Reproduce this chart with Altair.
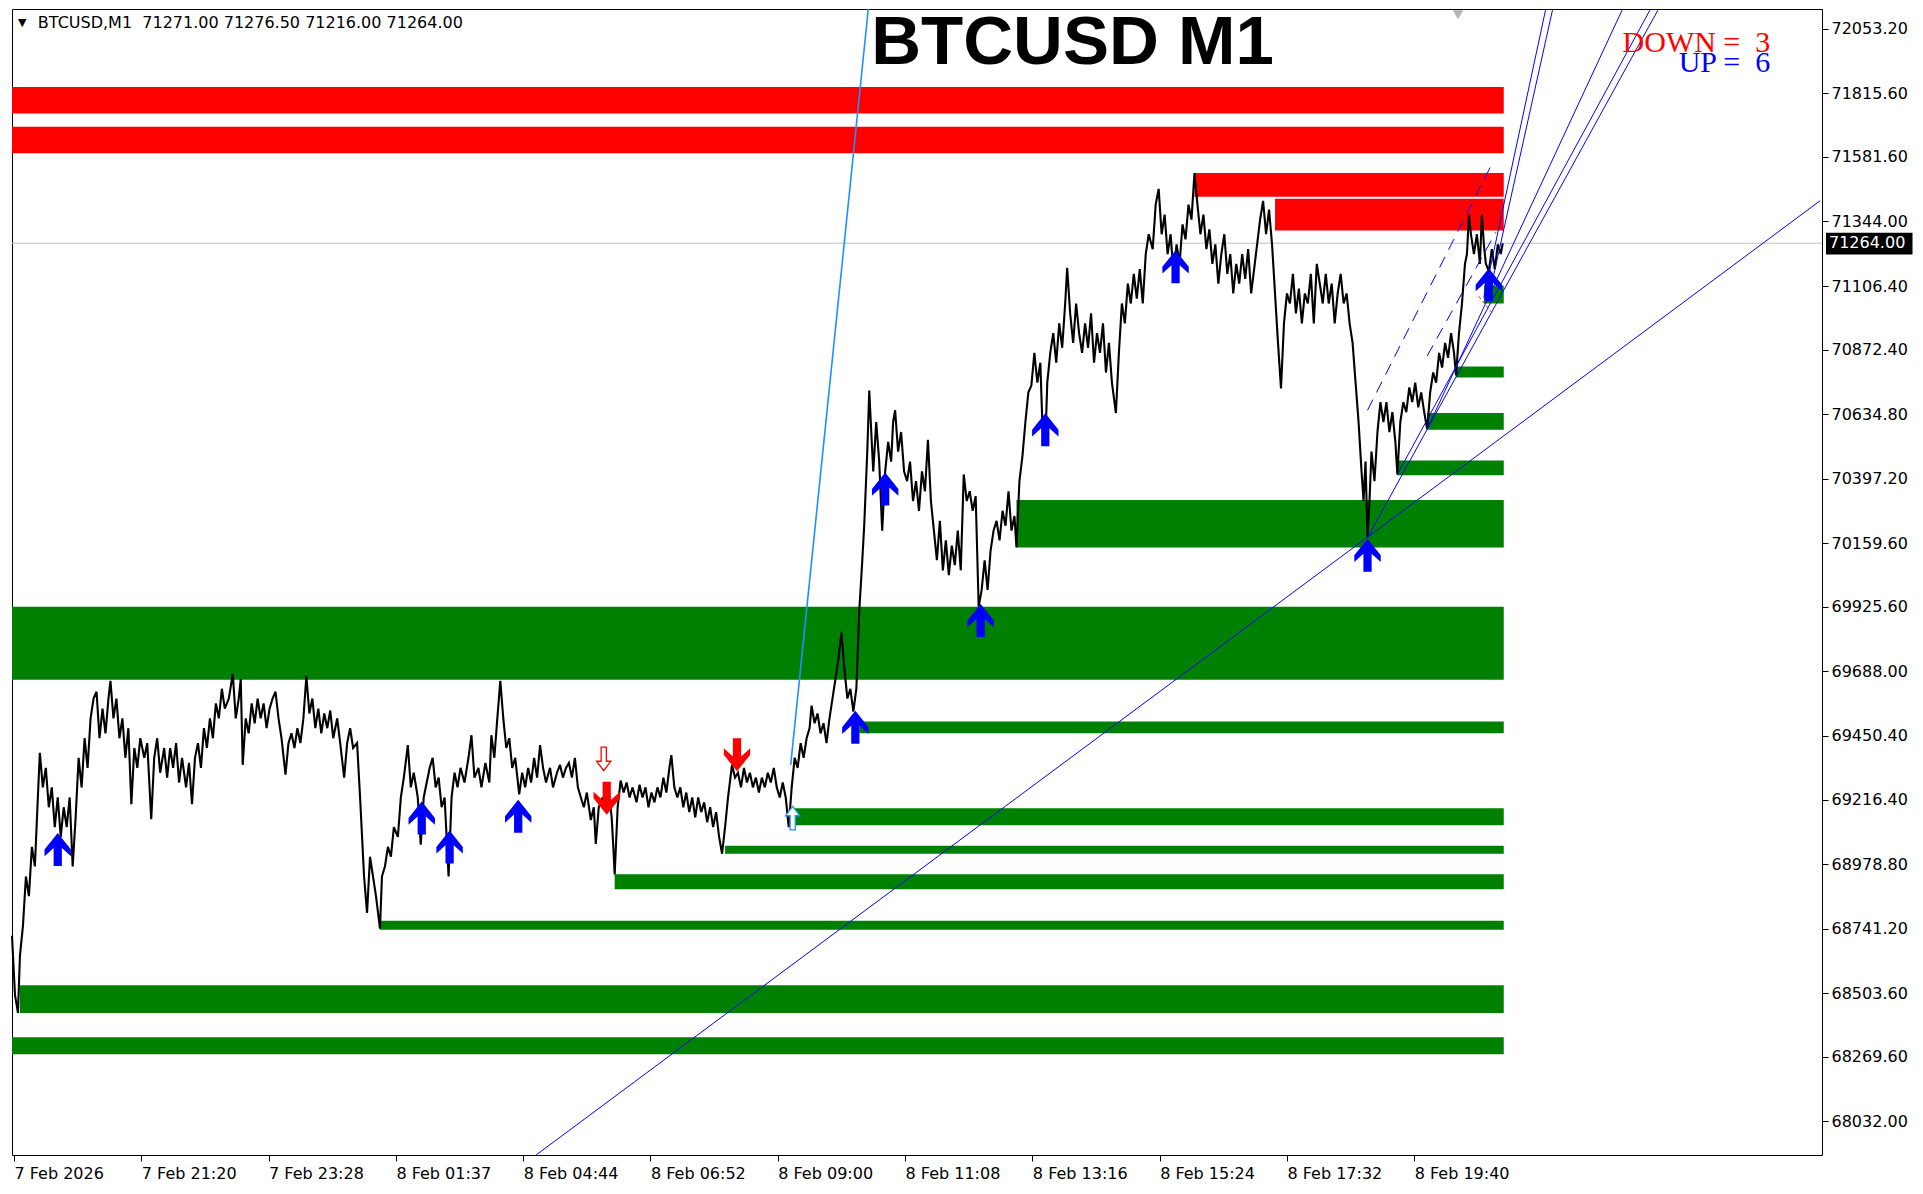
import altair as alt
import pandas as pd

# ---------------- data ----------------
# price path: (bar index, price) read as a zig-zag of the 1-minute bars
path = [
(-2,68715),(1,68497),(4,68431),(6,68642),(9,68751),(12,68933),(15,68861),(18,69042),(21,68970),(24,69224),(26,69388),(29,69261),(32,69333),(35,69188),(38,69261),(41,69115),(44,69224),(47,69079),(50,69188),(53,69115),(56,69224),(59,68970),(62,69151),(65,69370),(68,69261),(71,69442),(74,69333),(77,69515),(80,69588),(83,69613),(86,69442),(89,69551),(92,69460),(95,69588),(97,69653),(100,69515),(103,69588),(106,69442),(109,69515),(112,69370),(115,69479),(118,69199),(121,69406),(124,69333),(127,69442),(131,69370),(134,69424),(138,69144),(141,69370),(144,69442),(147,69315),(151,69406),(154,69297),(157,69406),(160,69333),(163,69424),(166,69279),(169,69370),(173,69261),(176,69351),(179,69199),(182,69370),(185,69424),(188,69333),(191,69479),(194,69406),(197,69515),(200,69442),(203,69570),(206,69515),(209,69624),(212,69551),(216,69588),(220,69679),(223,69515),(226,69588),(228,69660),(230,69344),(233,69515),(236,69460),(239,69570),(242,69497),(245,69588),(248,69515),(251,69570),(254,69479),(257,69551),(260,69588),(263,69613),(266,69515),(269,69442),(273,69308),(276,69424),(279,69460),(282,69406),(285,69479),(288,69424),(291,69515),(294,69671),(297,69533),(300,69588),(303,69479),(306,69551),(309,69460),(312,69533),(315,69479),(318,69544),(321,69442),(325,69515),(328,69424),(332,69297),(335,69424),(338,69479),(341,69406),(345,69424),(348,69224),(350,69079),(352,68933),(355,68799),(358,69006),(361,68933),(364,68861),(368,68741),(370,68933),(373,68970),(376,69042),(379,69006),(382,69115),(386,69079),(389,69224),(392,69297),(396,69417),(399,69261),(402,69315),(406,69224),(409,69050),(412,69224),(415,69279),(418,69333),(421,69370),(424,69261),(427,69297),(430,69188),(433,69224),(437,68933),(440,69224),(443,69315),(446,69261),(449,69333),(453,69279),(457,69370),(460,69453),(463,69297),(467,69333),(470,69261),(474,69351),(478,69279),(480,69453),(483,69370),(486,69515),(489,69653),(492,69515),(495,69406),(498,69442),(501,69333),(504,69370),(508,69235),(511,69315),(514,69261),(517,69333),(520,69279),(523,69370),(526,69297),(529,69417),(532,69333),(535,69279),(539,69333),(542,69261),(546,69315),(549,69344),(552,69297),(555,69333),(558,69351),(561,69297),(564,69370),(567,69261),(570,69224),(573,69188),(576,69242),(580,69141),(583,69188),(585,69053),(588,69188),(592,69224),(595,69177),(598,69242),(601,69151),(603,69017),(604,68941),(607,69188),(610,69286),(613,69242),(616,69279),(619,69224),(622,69261),(626,69206),(629,69271),(632,69224),(635,69261),(638,69188),(641,69242),(644,69206),(647,69261),(650,69224),(653,69297),(656,69242),(659,69333),(661,69380),(664,69261),(667,69224),(670,69261),(673,69188),(676,69242),(679,69170),(682,69224),(685,69151),(688,69224),(691,69170),(694,69206),(697,69133),(700,69188),(703,69115),(706,69170),(709,69079),(712,69017),(715,69115),(718,69224),(722,69344),(725,69297),(728,69315),(731,69261),(734,69333),(737,69279),(740,69315),(743,69261),(746,69297),(749,69242),(752,69297),(755,69261),(758,69315),(761,69279),(764,69333),(767,69261),(770,69224),(773,69279),(776,69224),(779,69115),(782,69261),(785,69370),(788,69333),(791,69424),(794,69370),(797,69442),(800,69479),(802,69562),(805,69497),(808,69533),(811,69460),(814,69497),(817,69424),(820,69515),(823,69588),(826,69660),(829,69733),(832,69831),(835,69697),(838,69588),(841,69624),(844,69540),(847,69624),(850,69915),(853,70097),(855,70231),(858,70497),(860,70722),(862,70569),(864,70424),(867,70606),(870,70460),(873,70206),(876,70424),(879,70533),(882,70460),(884,70606),(886,70649),(889,70497),(892,70569),(895,70424),(898,70388),(901,70460),(904,70315),(907,70388),(910,70279),(913,70424),(916,70351),(919,70540),(922,70315),(925,70206),(928,70097),(931,70242),(934,70060),(937,70170),(940,70042),(943,70151),(946,70079),(949,70206),(952,70060),(955,70413),(958,70315),(961,70351),(964,70279),(967,70333),(970,69926),(973,69988),(976,70097),(979,69988),(982,70133),(985,70206),(988,70242),(991,70170),(994,70279),(997,70224),(1000,70351),(1003,70206),(1006,70260),(1008,70144),(1011,70388),(1014,70479),(1017,70606),(1020,70715),(1023,70740),(1026,70860),(1029,70751),(1032,70824),(1034,70606),(1037,70522),(1039,70751),(1042,70860),(1045,70933),(1048,70824),(1051,70969),(1054,70879),(1057,71042),(1059,71173),(1062,71006),(1065,70897),(1068,71042),(1071,70933),(1074,70860),(1077,70969),(1080,70879),(1083,71006),(1086,70824),(1089,70933),(1092,70860),(1095,70969),(1098,70788),(1101,70897),(1104,70751),(1108,70639),(1111,70860),(1114,71042),(1117,70969),(1120,71115),(1123,71042),(1126,71151),(1129,71060),(1132,71169),(1135,71042),(1138,71224),(1141,71297),(1145,71242),(1148,71406),(1151,71464),(1154,71297),(1157,71369),(1160,71224),(1163,71297),(1166,71151),(1169,71260),(1172,71188),(1175,71333),(1178,71278),(1181,71406),(1184,71351),(1187,71522),(1190,71406),(1193,71297),(1196,71369),(1199,71242),(1202,71315),(1205,71188),(1208,71260),(1211,71115),(1214,71224),(1217,71297),(1220,71151),(1223,71224),(1226,71079),(1229,71188),(1232,71115),(1235,71224),(1238,71133),(1241,71242),(1244,71079),(1247,71169),(1250,71260),(1253,71351),(1256,71420),(1259,71297),(1262,71388),(1265,71260),(1268,71079),(1271,70897),(1274,70729),(1277,70969),(1280,71079),(1283,71042),(1286,71151),(1289,71006),(1292,71097),(1295,70969),(1298,71079),(1301,71042),(1304,71151),(1307,70969),(1310,71188),(1313,71115),(1316,71042),(1319,71151),(1322,71042),(1325,71115),(1328,70969),(1331,71079),(1334,71151),(1337,71042),(1340,71079),(1343,70969),(1346,70897),(1349,70751),(1352,70606),(1355,70424),(1357,70315),(1359,70460),(1361,70180),(1363,70315),(1365,70497),(1368,70388),(1371,70569),(1374,70679),(1377,70606),(1380,70679),(1383,70569),(1386,70642),(1389,70533),(1391,70413),(1394,70606),(1397,70679),(1400,70642),(1403,70733),(1406,70679),(1409,70751),(1412,70660),(1415,70715),(1418,70642),(1421,70580),(1424,70715),(1427,70788),(1430,70751),(1433,70860),(1436,70806),(1439,70897),(1442,70842),(1445,70933),(1448,70860),(1450,70777),(1453,70933),(1456,71042),(1459,71188),(1461,71224),(1463,71369),(1465,71297),(1468,71224),(1471,71297),(1474,71188),(1476,71369),(1478,71260),(1480,71188),(1483,71162),(1486,71242),(1489,71169),(1492,71260),(1495,71224),(1497,71264),
]
bars = [b for b, _ in path]
prices = [p for _, p in path]

# supply (red) and demand (green) zones: start bar, top price, bottom price
zone_end = 1498
red_start = [-2, -2, 1187, 1268]
red_top = [71839, 71693, 71522, 71428]
red_bot = [71741, 71595, 71435, 71311]
green_start = [-2, 1008, 850, 779, 715, 604, 368, 6, -2, 1391, 1421, 1450, 1478]
green_top = [69926, 70319, 69504, 69184, 69046, 68941, 68770, 68533, 68341, 70464, 70639, 70810, 71108]
green_bot = [69657, 70144, 69460, 69122, 69017, 68886, 68737, 68431, 68279, 70410, 70577, 70770, 71042]

# trend lines (bar0, price0, bar1, price1)
blue_lines = [
    (525, 67908, 1816, 71420),
    (1361, 70180, 1653, 72122),
    (1391, 70413, 1645, 72122),
    (1421, 70580, 1617, 72122),
    (1478, 71064, 1540, 72122),
    (1485, 71100, 1547, 72122),
]
lightblue_lines = [(781, 69344, 859, 72126)]
dashed_lines = [(1361, 70649, 1486, 71555), (1421, 70849, 1490, 71304)]
red_dashed = [(1473, 71068, 1488, 70999)]

# signal arrows (bar, price)
up_bar = [44, 410, 438, 507, 846, 876, 972, 1037, 1168, 1361, 1483]
up_price = [69032, 69148, 69042, 69155, 69482, 70359, 69875, 70577, 71177, 70115, 71111]
down_bar = [596, 727]
down_price = [69221, 69381]
hollow_down = [(593, 69366)]
hollow_up = [(783, 69148)]

current_price = 71264.00
header = "BTCUSD,M1\u00a0 71271.00 71276.50 71216.00 71264.00"
title_text = "BTCUSD M1"
down_count = 3
up_count = 6

y_ticks = [72053.20, 71815.60, 71581.60, 71344.00, 71106.40, 70872.40, 70634.80, 70397.20,
           70159.60, 69925.60, 69688.00, 69450.40, 69216.40, 68978.80, 68741.20, 68503.60,
           68269.60, 68032.00]
x_labels = ["7 Feb 2026", "7 Feb 21:20", "7 Feb 23:28", "8 Feb 01:37", "8 Feb 04:44",
            "8 Feb 06:52", "8 Feb 09:00", "8 Feb 11:08", "8 Feb 13:16", "8 Feb 15:24",
            "8 Feb 17:32", "8 Feb 19:40"]
x_ticks = [128 * i for i in range(len(x_labels))]

# ---------------- chart ----------------
FONT = "DejaVu Sans"
xs = alt.Scale(domain=[-2, 1818], nice=False, zero=False)
ys = alt.Scale(domain=[67908, 72126], nice=False, zero=False)
label_expr = "[" + ",".join("'%s'" % l for l in x_labels) + "][round(datum.value/128)]"
xaxis = alt.Axis(values=x_ticks, labelExpr=label_expr, labelAlign="left", labelBaseline="top",
                 labelPadding=4, tickSize=6, tickColor="black", domain=False, grid=False,
                 title=None, labelFont=FONT, labelFontSize=16, labelColor="black",
                 labelOverlap=False, labelFlush=False, labelBound=False)
yaxis = alt.Axis(orient="right", values=y_ticks, format=".2f", tickSize=6, tickColor="black",
                 labelPadding=3, domain=False, grid=False, title=None, labelFont=FONT,
                 labelFontSize=16, labelColor="black", labelOverlap=False, labelFlush=False,
                 labelBound=False)


def X(f):
    return alt.X(f, type="quantitative", scale=xs, axis=xaxis)


def Y(f):
    return alt.Y(f, type="quantitative", scale=ys, axis=yaxis)


red_df = pd.DataFrame({"b0": red_start, "b1": zone_end, "p0": red_top, "p1": red_bot})
green_df = pd.DataFrame({"b0": green_start, "b1": zone_end, "p0": green_top, "p1": green_bot})
red_z = alt.Chart(red_df).mark_rect(color="#FF0000").encode(x=X("b0"), x2="b1", y=Y("p0"), y2="p1")
green_z = alt.Chart(green_df).mark_rect(color="#008000").encode(x=X("b0"), x2="b1", y=Y("p0"), y2="p1")

cur_df = pd.DataFrame({"b0": [-2], "b1": [1818], "p": [current_price]})
cur_line = alt.Chart(cur_df).mark_rule(color="#C0C0C0", strokeWidth=1).encode(
    x=X("b0"), x2="b1", y=Y("p"))

price_df = pd.DataFrame({"b": bars, "p": prices})
price_line = alt.Chart(price_df).mark_line(color="black", strokeWidth=2.1, strokeJoin="miter",
                                           strokeMiterLimit=3).encode(
    x=X("b"), y=Y("p"), order="b:Q")


def seg_df(lines):
    return pd.DataFrame(lines, columns=["b0", "p0", "b1", "p1"])


blue = alt.Chart(seg_df(blue_lines)).mark_rule(color="#0000FF", strokeWidth=1).encode(
    x=X("b0"), x2="b1", y=Y("p0"), y2="p1")
lblue = alt.Chart(seg_df(lightblue_lines)).mark_rule(color="#1E90FF", strokeWidth=1.6).encode(
    x=X("b0"), x2="b1", y=Y("p0"), y2="p1")
dashed = alt.Chart(seg_df(dashed_lines)).mark_rule(color="#0000FF", strokeWidth=1, strokeDash=[12, 8]).encode(
    x=X("b0"), x2="b1", y=Y("p0"), y2="p1")
rdashed = alt.Chart(seg_df(red_dashed)).mark_rule(color="#FF0000", strokeWidth=1, strokeDash=[3, 3]).encode(
    x=X("b0"), x2="b1", y=Y("p0"), y2="p1")

UP = "M0,-1L0.8,0L0.8,0.4L0.25,-0.1L0.25,1L-0.25,1L-0.25,-0.1L-0.8,0.4L-0.8,0Z"
DOWN = "M0,1L0.8,0L0.8,-0.4L0.25,0.1L0.25,-1L-0.25,-1L-0.25,0.1L-0.8,-0.4L-0.8,0Z"
HUP = "M0,-1L0.6,-0.2L0.22,-0.2L0.22,1L-0.22,1L-0.22,-0.2L-0.6,-0.2Z"
HDOWN = "M0,1L0.6,0.2L0.22,0.2L0.22,-1L-0.22,-1L-0.22,0.2L-0.6,0.2Z"

up_ar = alt.Chart(pd.DataFrame({"b": up_bar, "p": up_price})).mark_point(
    shape=UP, filled=True, color="#0000FF", size=1089, opacity=1).encode(x=X("b"), y=Y("p"))
dn_ar = alt.Chart(pd.DataFrame({"b": down_bar, "p": down_price})).mark_point(
    shape=DOWN, filled=True, color="#FF0000", size=1089, opacity=1).encode(x=X("b"), y=Y("p"))
hdn = alt.Chart(pd.DataFrame(hollow_down, columns=["b", "p"])).mark_point(
    shape=HDOWN, filled=True, fill="white", stroke="#FF0000", strokeWidth=1.3, size=560, opacity=1).encode(
    x=X("b"), y=Y("p"))
hup = alt.Chart(pd.DataFrame(hollow_up, columns=["b", "p"])).mark_point(
    shape=HUP, filled=True, fill="white", stroke="#1E90FF", strokeWidth=1.3, size=560, opacity=1).encode(
    x=X("b"), y=Y("p"))

shift_mark = alt.Chart(pd.DataFrame({"b": [1452], "p": [72105]})).mark_point(
    shape="triangle-down", filled=True, color="#B4B4B4", size=110, opacity=1).encode(x=X("b"), y=Y("p"))

title_mk = alt.Chart(pd.DataFrame({"b": [862], "p": [71925], "t": [title_text]})).mark_text(
    font="Liberation Sans", fontWeight="bold", fontSize=69, align="left", baseline="alphabetic",
    color="black").encode(x=X("b"), y=Y("p"), text="t:N")
tri_mk = alt.Chart(pd.DataFrame({"b": [4], "p": [72075], "t": ["\u25bc"]})).mark_text(
    font=FONT, fontSize=11, align="left", baseline="middle", color="black").encode(
    x=X("b"), y=Y("p"), text="t:N")
head_mk = alt.Chart(pd.DataFrame({"b": [24], "p": [72055], "t": [header]})).mark_text(
    font=FONT, fontSize=16, align="left", baseline="alphabetic", color="black").encode(
    x=X("b"), y=Y("p"), text="t:N")
cnt_df = pd.DataFrame({"b": [1766, 1766], "p": [71968, 71893],
                       "t": ["DOWN =\u00a0 %d" % down_count, "UP =\u00a0 %d" % up_count],
                       "c": ["#FF0000", "#0000FF"]})
cnt_mk = alt.Chart(cnt_df).mark_text(font="Liberation Serif", fontSize=30, align="right",
                                     baseline="alphabetic").encode(
    x=X("b"), y=Y("p"), text="t:N", color=alt.Color("c:N", scale=None))

box_df = pd.DataFrame({"b0": [1822], "b1": [1909], "p0": [71302], "p1": [71222]})
box = alt.Chart(box_df).mark_rect(color="black").encode(x=X("b0"), x2="b1", y=Y("p0"), y2="p1")
box_t = alt.Chart(pd.DataFrame({"b": [1825], "p": [current_price], "t": ["%.2f" % current_price]})).mark_text(
    font=FONT, fontSize=16, align="left", baseline="middle", color="white").encode(
    x=X("b"), y=Y("p"), text="t:N")

chart = alt.layer(
    red_z, green_z, cur_line, price_line, blue, lblue, dashed, rdashed,
    up_ar, dn_ar, hdn, hup, shift_mark, title_mk, tri_mk, head_mk, cnt_mk, box, box_t
).properties(width=1810, height=1146, padding=0, background="white").configure_view(
    stroke="black", strokeWidth=1)

chart.save("out.html", embed_options={"renderer": "svg", "actions": False})
